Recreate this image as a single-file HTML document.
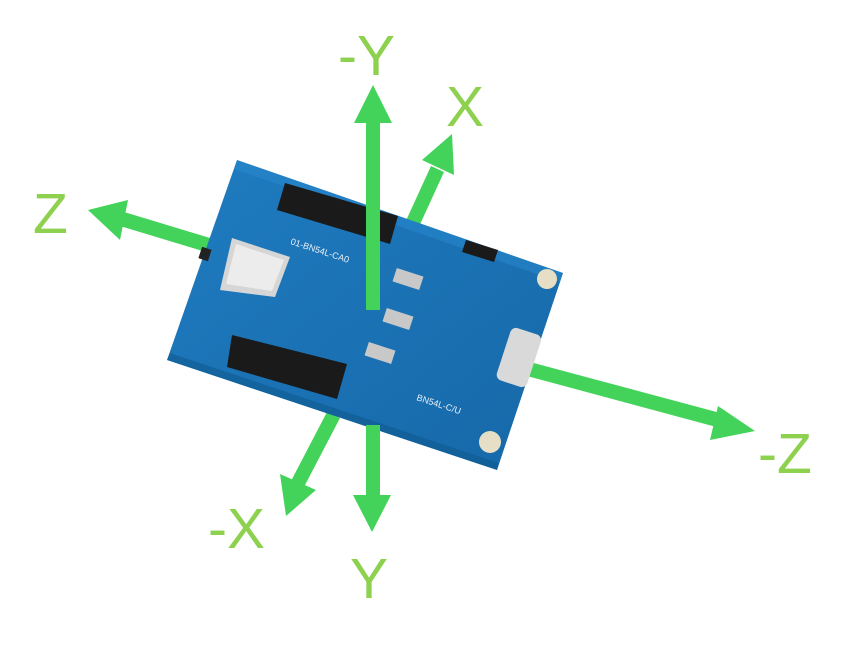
<!DOCTYPE html>
<html><head><meta charset="utf-8"><style>
html,body{margin:0;padding:0;background:#fff;}
svg{display:block}
text{font-family:"Liberation Sans",sans-serif;fill:#8dd14f;font-size:57px;}
</style></head><body>
<svg width="864" height="649" viewBox="0 0 864 649">
<defs>
<linearGradient id="pcb" x1="0" y1="0" x2="1" y2="1">
<stop offset="0" stop-color="#1f7cc0"/><stop offset="1" stop-color="#1668a8"/>
</linearGradient>
</defs>
<g fill="#44d35a" stroke="none">
<rect x="366" y="118" width="14" height="192"/>
<polygon points="373,85 354,123 392,123"/>
<polygon points="404,225 417,231 444,172 431,166"/>
<polygon points="452,134 422,160 454,175"/>
<polygon points="210,238 206,252 120,226 124,212"/>
<polygon points="88,210 128,200 120,240"/>
<polygon points="530,362 527,376 720,428 724,414"/>
<polygon points="755,431 718,406 710,440"/>
<polygon points="327,412 340,418 304,487 291,481"/>
<polygon points="286,516 280,474 316,490"/>
<rect x="366" y="425" width="14" height="75"/>
<polygon points="372,532 353,495 391,495"/>
</g>
<polygon points="237,160 563,273 497,470 167,360" fill="url(#pcb)"/>
<polygon points="237,160 563,273 560,282 234,169" fill="#2a8ad0" opacity="0.5"/>
<polygon points="167,360 497,470 499,463 170,353" fill="#0f5a90" opacity="0.6"/>
<!-- J3 header -->
<polygon points="285,183 398,216 390,244 277,210" fill="#1a1a1a"/>
<!-- module -->
<polygon points="232,238 290,257 275,297 220,290" fill="#d6d6d6"/>
<polygon points="236,244 284,260 272,291 226,284" fill="#ececec"/>
<rect x="200" y="248" width="10" height="12" fill="#222" transform="rotate(18 205 254)"/>
<!-- J4 header -->
<polygon points="232,335 347,364 337,399 227,367" fill="#1a1a1a"/>
<!-- J1 small header -->
<polygon points="466,240 498,250 494,262 462,252" fill="#1a1a1a"/>
<!-- buttons -->
<g fill="#c8c8c8">
<rect x="394" y="272" width="28" height="14" transform="rotate(18 408 279)"/>
<rect x="384" y="312" width="28" height="14" transform="rotate(18 398 319)"/>
<rect x="366" y="346" width="28" height="14" transform="rotate(18 380 353)"/>
</g>
<!-- USB -->
<rect x="503" y="330" width="32" height="55" rx="6" fill="#d9d9d9" transform="rotate(18 519 357)"/>
<circle cx="547" cy="279" r="10" fill="#e7dfc5"/>
<circle cx="490" cy="442" r="11" fill="#e7dfc5"/>
<text x="290" y="244" style="font-size:9px;fill:#e8f1f8" transform="rotate(18 290 244)">01-BN54L-CA0</text>
<text x="416" y="400" style="font-size:9px;fill:#e8f1f8" transform="rotate(18 416 400)">BN54L-C/U</text>
<rect x="366" y="150" width="14" height="160" fill="#44d35a"/>
<rect x="366" y="425" width="14" height="10" fill="#44d35a"/>
<text x="338" y="75">-Y</text>
<text x="446" y="126">X</text>
<text x="33" y="233">Z</text>
<text x="758" y="473">-Z</text>
<text x="208" y="548">-X</text>
<text x="350" y="598">Y</text>
</svg>
</body></html>
